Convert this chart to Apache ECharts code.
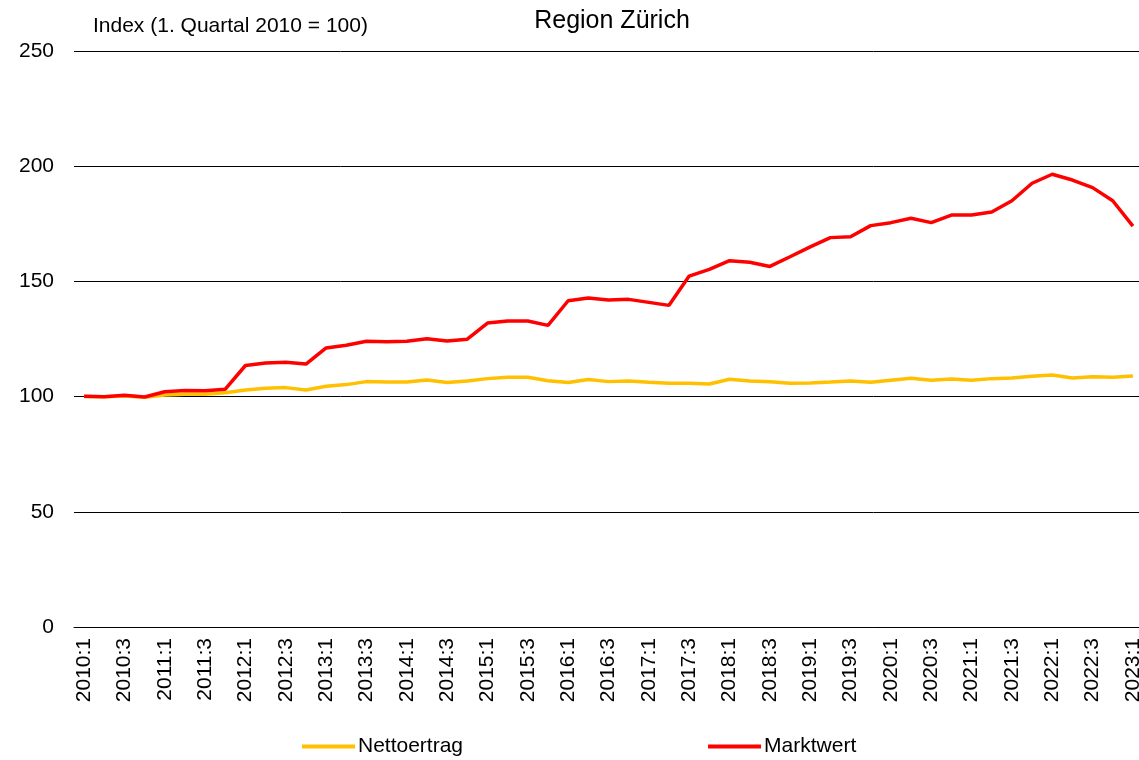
<!DOCTYPE html>
<html>
<head>
<meta charset="utf-8">
<script src="https://cdn.jsdelivr.net/npm/echarts@6/dist/echarts.min.js"></script>
<style>
html,body{margin:0;padding:0;background:#fff;}
#chart{width:1139px;height:760px;}
</style>
</head>
<body>
<div id="chart"></div>
<script>
var categories = [];
for (var yr = 2010; yr <= 2023; yr++) {
  for (var q = 1; q <= 4; q++) {
    if (yr === 2023 && q > 1) break;
    categories.push(yr + ':' + q);
  }
}
var nettoertrag = [100, 99.9, 100.3, 99.7, 100.7, 101, 101, 101.7, 102.9, 103.6, 103.9, 102.9, 104.5, 105.2, 106.5, 106.3, 106.3, 107.2, 106.1, 106.8, 107.8, 108.4, 108.4, 106.9, 106.1, 107.4, 106.5, 106.8, 106.2, 105.8, 105.8, 105.5, 107.5, 106.8, 106.4, 105.8, 105.9, 106.3, 106.8, 106.2, 107.1, 108, 107.1, 107.6, 107.1, 107.8, 108.1, 108.8, 109.4, 108.1, 108.6, 108.4, 108.9];
var marktwert = [100.2, 99.9, 100.6, 99.8, 102.1, 102.6, 102.5, 103.2, 113.5, 114.6, 114.9, 114.1, 121.1, 122.3, 124, 123.8, 124, 125.1, 124.1, 124.9, 131.9, 132.8, 132.8, 130.9, 141.6, 142.8, 141.9, 142.2, 140.9, 139.6, 152.3, 155.2, 159, 158.3, 156.5, 160.7, 165, 169, 169.4, 174.2, 175.5, 177.4, 175.5, 178.8, 178.8, 180.1, 185, 192.6, 196.5, 194, 190.7, 185, 174];
var yTicks = { min: 0, max: 250, interval: 50 };
var seriesNames = ['Nettoertrag', 'Marktwert'];
var titleText = 'Region Zürich';
var unitText = 'Index (1. Quartal 2010 = 100)';

var font = '"Liberation Sans", Arial, Helvetica, sans-serif';
var chart = echarts.init(document.getElementById('chart'), null, { renderer: 'canvas' });
chart.setOption({
  animation: false,
  backgroundColor: '#fff',
  title: [
    { text: titleText, left: 607, textAlign: 'center', top: 4,
      textStyle: { fontFamily: font, fontSize: 25, fontWeight: 'normal', color: '#000' } },
    { text: unitText, left: 88, top: 11,
      textStyle: { fontFamily: font, fontSize: 21, fontWeight: 'normal', color: '#000' } }
  ],
  grid: { left: 74, width: 1069, top: 51, bottom: 133, containLabel: false, outerBoundsMode: 'none' },
  legend: {
    data: seriesNames,
    left: 297, top: 731,
    itemWidth: 53, itemHeight: 4, itemGap: 245,
    textStyle: { fontFamily: font, fontSize: 21, color: '#000', padding: [0, 0, 0, -2] },
    icon: 'rect'
  },
  xAxis: {
    type: 'category',
    data: categories,
    boundaryGap: true,
    axisLine: { lineStyle: { color: '#000', width: 1 } },
    axisTick: { show: false },
    axisLabel: { interval: 1, rotate: 90, margin: 11, color: '#000', fontFamily: font, fontSize: 21 }
  },
  yAxis: {
    type: 'value',
    min: yTicks.min, max: yTicks.max, interval: yTicks.interval,
    axisLine: { show: false },
    axisTick: { show: false },
    axisLabel: { margin: 20, color: '#000', fontFamily: font, fontSize: 21 },
    splitLine: { lineStyle: { color: '#000', width: 1 } }
  },
  series: [
    { name: seriesNames[0], type: 'line', data: nettoertrag, showSymbol: false, symbol: 'none',
      itemStyle: { color: '#ffc000' }, lineStyle: { color: '#ffc000', width: 3.5 } },
    { name: seriesNames[1], type: 'line', data: marktwert, showSymbol: false, symbol: 'none',
      itemStyle: { color: '#ff0000' }, lineStyle: { color: '#ff0000', width: 3.5 } }
  ]
});
</script>
</body>
</html>
